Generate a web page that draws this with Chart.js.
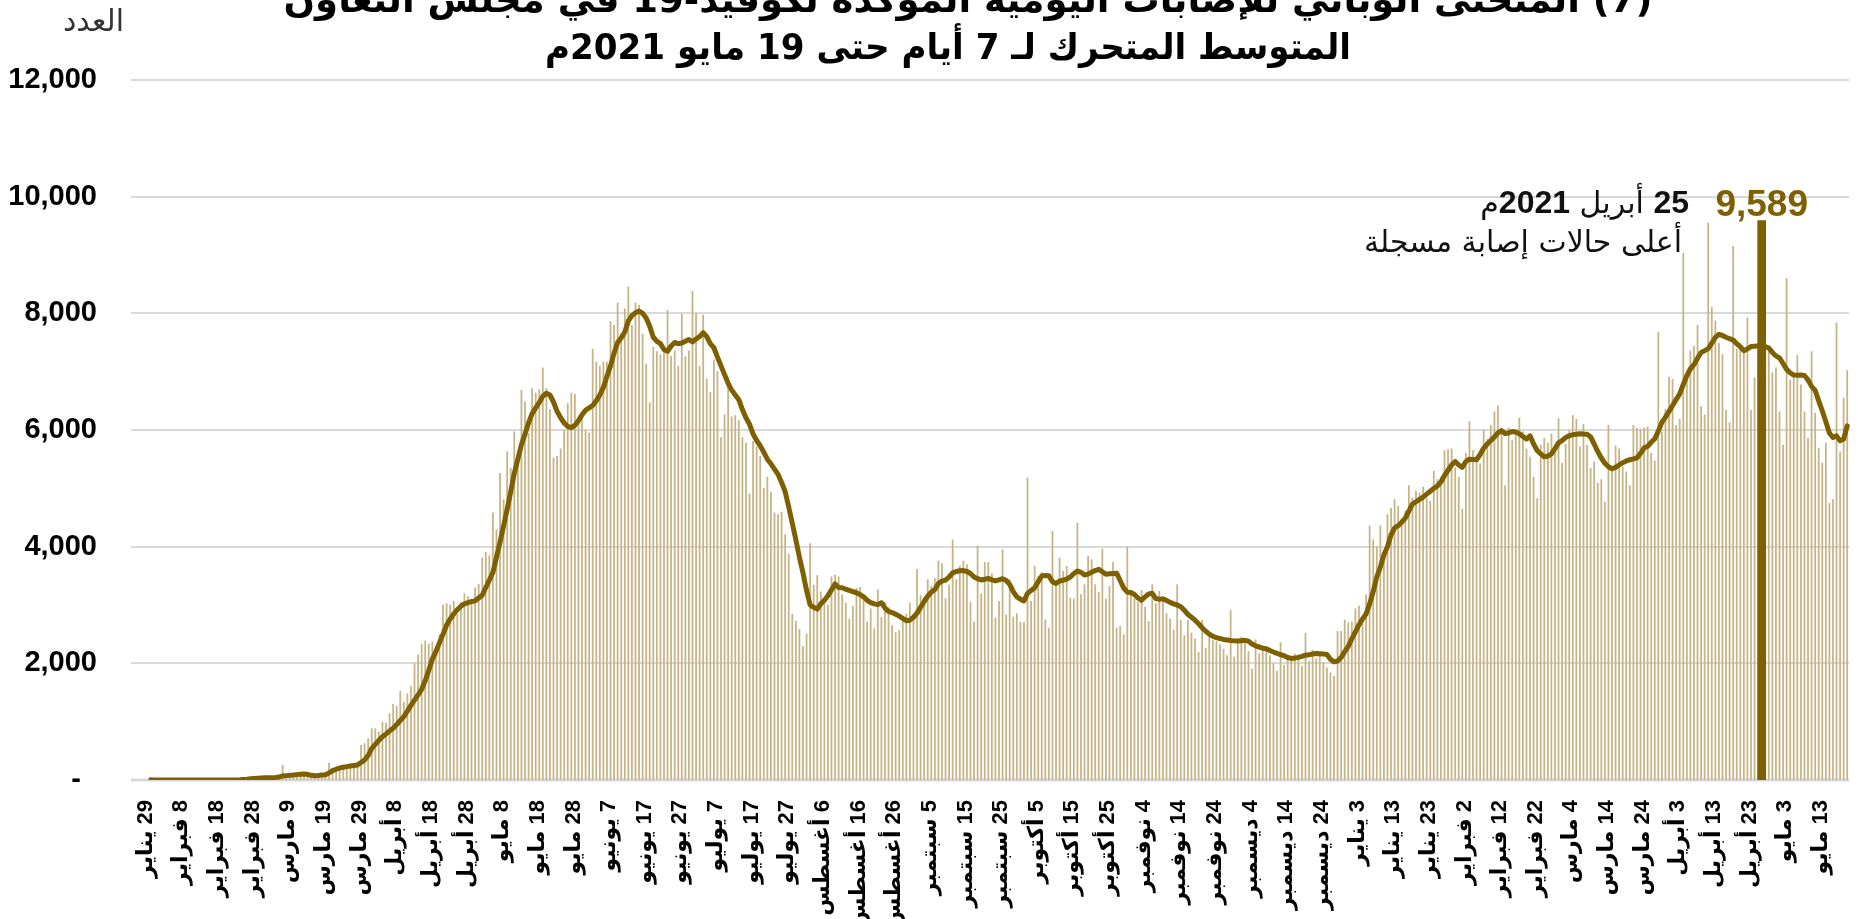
<!DOCTYPE html>
<html lang="ar">
<head>
<meta charset="utf-8">
<script src="https://cdn.jsdelivr.net/npm/chart.js@4.4.1/dist/chart.umd.min.js"></script>
<style>
html, body { margin: 0; padding: 0; background: #fff; }
canvas { display: block; direction: rtl; }
</style>
</head>
<body>
<canvas id="chart" width="1858" height="919"></canvas>
<script>
// daily confirmed cases in the GCC, 29 Jan 2020 .. 19 May 2021
const tickLabels = ['29 يناير','8 فبراير','18 فبراير','28 فبراير','9 مارس','19 مارس','29 مارس','8 أبريل','18 أبريل','28 أبريل',
  '8 مايو','18 مايو','28 مايو','7 يونيو','17 يونيو','27 يونيو','7 يوليو','17 يوليو','27 يوليو','6 أغسطس',
  '16 أغسطس','26 أغسطس','5 سبتمبر','15 سبتمبر','25 سبتمبر','5 أكتوبر','15 أكتوبر','25 أكتوبر','4 نوفمبر','14 نوفمبر',
  '24 نوفمبر','4 ديسمبر','14 ديسمبر','24 ديسمبر','3 يناير','13 يناير','23 يناير','2 فبراير','12 فبراير','22 فبراير',
  '4 مارس','14 مارس','24 مارس','3 أبريل','13 أبريل','23 أبريل','3 مايو','13 مايو'];

const dailyCases = [
  4,0,0,1,0,0,1,0,0,0,
  0,0,0,0,0,0,1,0,0,0,
  0,0,0,0,3,25,40,30,45,30,
  40,45,35,30,45,55,70,257,60,85,
  80,110,95,115,100,60,70,95,90,100,
  297,180,150,210,240,200,260,230,314,600,
  629,714,886,886,829,1000,983,1143,1303,1269,
  1531,1343,1486,1611,2000,2150,2330,2390,2340,2370,
  2300,2500,3006,3030,3006,3070,2850,3050,3200,3150,
  3050,3300,3360,3813,3910,3850,4587,4297,5265,4813,
  5632,5348,5974,5600,6684,6490,5950,6716,6639,6700,
  7071,6716,6361,5523,5555,5684,6006,6458,6639,6619,
  6135,6300,6000,5955,7394,7170,7100,7170,7170,7865,
  7800,8187,7650,8084,8458,7800,8187,8148,7652,7135,
  6471,7426,7350,7297,7400,8058,7264,7361,7100,7987,
  7264,7361,8381,8006,7103,7974,6877,6652,7200,7006,
  5877,6264,6910,6232,6252,6168,5877,5781,4910,5813,
  5716,5555,5006,5200,4942,4587,4555,4600,4213,3877,
  2845,2729,2587,2297,2510,4058,3348,3510,3232,3071,
  3006,3490,3523,3490,3181,3039,2768,2987,3297,3310,
  3168,2716,2942,2600,3265,2794,3052,2961,2652,2535,
  2568,2794,2850,3039,2781,3619,3168,3135,3439,3329,
  3458,3761,3716,3116,3348,4123,3439,3671,3761,3697,
  3052,2716,4019,3200,3735,3735,3542,2783,3069,3954,
  2840,3440,2800,2857,2709,2709,5183,3069,3669,3497,
  3566,2754,2611,4269,3354,3811,3583,3669,3126,3109,
  4411,3183,3354,3840,3783,3354,3223,3966,3109,3326,
  3737,2611,2640,2497,4000,3183,3109,3051,3257,2971,
  2726,3354,3029,3240,3126,2857,2766,2583,3354,2743,
  2480,2743,2526,2423,2194,2743,2269,2469,2400,2380,
  2326,2251,2137,2914,2114,2400,2457,2354,2211,1909,
  2411,2171,2229,2211,2137,2000,1869,2361,1974,2084,
  2084,2168,2148,1955,2523,2039,2232,2084,2148,2019,
  1929,1845,1781,2555,2555,2748,2703,2716,2942,2987,
  2768,3181,4361,4123,4006,4361,3813,4555,4665,4813,
  4700,4471,4619,5052,4845,4961,4923,5026,4832,4781,
  5297,5155,5200,5652,5671,5684,5361,5200,4652,5606,
  6148,5652,5490,5426,6006,5845,6084,6316,6426,5974,
  5052,6039,5826,6006,6213,5974,5684,5542,5200,4832,
  5748,5865,5781,5942,5748,6200,5439,5761,5994,6252,
  6187,5716,6103,5748,5348,5458,5090,5155,4768,6084,
  5361,5735,5684,5374,5284,5052,6084,6039,6019,6039,
  6058,5606,5477,7684,5974,6361,6910,6877,6084,6187,
  9039,6942,7361,7439,7800,6406,6264,9555,8103,7877,
  7490,7297,6342,6135,9155,7394,7490,7361,7929,6342,
  6900,7450,9589,7361,7394,6987,7071,6316,5748,8600,
  6858,6910,7284,6781,6316,5865,7348,6297,5697,5439,
  5781,4748,4813,7839,5632,6555,7026
];

// 7-day moving average
const movingAvg = [
  4,2,1,1,1,1,1,0,0,0,
  0,0,0,0,0,0,0,0,0,0,
  0,0,0,0,1,4,10,14,20,25,
  31,36,38,38,40,44,50,70,75,80,
  84,92,100,103,98,80,74,78,85,91,
  120,160,185,205,220,229,240,250,257,300,
  343,420,543,610,680,743,790,840,886,950,
  1020,1086,1180,1280,1371,1460,1555,1700,1880,2071,
  2200,2350,2500,2652,2760,2845,2920,2980,3020,3039,
  3060,3071,3120,3168,3300,3426,3560,3820,4080,4360,
  4640,4940,5260,5500,5748,5930,6120,6280,6380,6470,
  6580,6630,6600,6480,6320,6210,6120,6060,6040,6080,
  6160,6260,6340,6380,6420,6500,6600,6730,6920,7100,
  7320,7500,7580,7680,7870,7960,8010,8040,8000,7920,
  7780,7590,7520,7480,7380,7350,7440,7500,7480,7490,
  7520,7550,7510,7560,7600,7670,7600,7480,7410,7250,
  7100,6950,6800,6684,6600,6520,6350,6210,6100,5930,
  5820,5730,5620,5500,5420,5330,5240,5100,4942,4680,
  4400,4120,3820,3550,3250,3000,2960,2930,3020,3080,
  3160,3260,3361,3300,3295,3270,3250,3230,3210,3180,
  3140,3080,3040,3020,3006,3039,2950,2890,2870,2840,
  2810,2770,2730,2740,2790,2860,2960,3060,3150,3220,
  3265,3370,3410,3426,3480,3550,3575,3587,3590,3575,
  3540,3480,3450,3430,3440,3458,3430,3413,3430,3451,
  3420,3354,3230,3140,3100,3069,3200,3250,3297,3400,
  3497,3505,3500,3400,3370,3411,3425,3445,3480,3540,
  3583,3560,3515,3530,3560,3590,3611,3570,3526,3535,
  3540,3545,3420,3290,3220,3215,3180,3120,3080,3140,
  3190,3200,3110,3100,3105,3080,3045,3020,3000,2970,
  2910,2840,2790,2740,2680,2610,2550,2500,2465,2440,
  2425,2410,2400,2390,2385,2383,2388,2394,2380,2330,
  2300,2280,2260,2251,2220,2194,2170,2150,2130,2100,
  2084,2090,2103,2120,2140,2148,2160,2168,2165,2160,
  2150,2070,2025,2040,2100,2200,2290,2420,2540,2660,
  2760,2845,3020,3232,3480,3650,3860,4000,4200,4320,
  4360,4420,4490,4610,4729,4770,4810,4850,4900,4950,
  5000,5040,5110,5220,5310,5400,5458,5400,5361,5460,
  5500,5495,5490,5580,5690,5760,5820,5880,5950,5990,
  5940,5950,5974,5965,5935,5890,5845,5900,5760,5650,
  5590,5540,5550,5590,5680,5780,5820,5870,5900,5920,
  5929,5935,5930,5929,5880,5760,5630,5520,5430,5370,
  5335,5360,5400,5440,5470,5490,5505,5523,5600,5690,
  5720,5790,5850,5980,6130,6220,6320,6420,6520,6620,
  6780,6930,7050,7120,7230,7329,7360,7394,7490,7587,
  7640,7620,7590,7565,7542,7480,7426,7360,7390,7430,
  7435,7440,7439,7430,7406,7330,7270,7235,7140,7039,
  6980,6942,6940,6942,6935,6860,6748,6680,6500,6329,
  6140,5950,5870,5900,5813,5845,6071
];

const yTicks = [0, 2000, 4000, 6000, 8000, 10000, 12000];
const peakIndex = 452; // 25 April 2021

const days = dailyCases.map((_, i) => new Date(Date.UTC(2020, 0, 29 + i)).toISOString().slice(0, 10));
const peakBar = dailyCases.map((v, i) => i === peakIndex ? v : null);

const GOLD = '#7f6000';
const TAN = 'rgb(197,180,134)';
const GRID = '#d9d9d9';

const gridPlugin = {
  id: 'gridFromLeft',
  beforeDatasetsDraw(chart) {
    const { ctx, scales: { y } } = chart;
    ctx.save();
    ctx.strokeStyle = GRID;
    yTicks.forEach(v => {
      const py = Math.round(y.getPixelForValue(v));
      ctx.lineWidth = v === 0 ? 3 : 2;
      ctx.beginPath();
      ctx.moveTo(131, py);
      ctx.lineTo(1849, py);
      ctx.stroke();
    });
    ctx.restore();
  }
};

const fitText = (ctx, text, x, y, width) => {
  const w = ctx.measureText(text).width;
  ctx.save();
  ctx.translate(x, y);
  ctx.scale(width / w, 1);
  ctx.fillText(text, 0, 0);
  ctx.restore();
};

const textPlugin = {
  id: 'texts',
  afterDraw(chart) {
    const { ctx, scales: { x } } = chart;
    ctx.save();
    ctx.direction = 'rtl';
    ctx.fillStyle = '#000';
    ctx.textBaseline = 'alphabetic';

    // title
    ctx.textAlign = 'center';
    ctx.font = 'bold 36px "DejaVu Sans", sans-serif';
    fitText(ctx, '(7) المنحنى الوبائي للإصابات اليومية المؤكدة لكوفيد-19 في مجلس التعاون', 968, 12, 1369);
    fitText(ctx, 'المتوسط المتحرك لـ 7 أيام حتى 19 مايو 2021م', 948, 59, 806);

    // axis unit
    ctx.textAlign = 'right';
    ctx.font = '30px "DejaVu Sans", sans-serif';
    ctx.fillStyle = '#333';
    ctx.fillText('العدد', 124, 31);

    // peak annotation
    const px = x.getPixelForValue(peakIndex);
    ctx.textAlign = 'center';
    ctx.direction = 'ltr';
    ctx.fillStyle = GOLD;
    ctx.font = 'bold 37px "Liberation Sans", Arial, sans-serif';
    ctx.fillText('9,589', px, 216);

    ctx.direction = 'rtl';
    ctx.textAlign = 'right';
    ctx.fillStyle = '#111';
    let cx = 1689;
    const parts = [
      ['25', 'bold 32px "Liberation Sans", Arial, sans-serif'],
      [' أبريل ', '30px "DejaVu Sans", sans-serif'],
      ['2021', 'bold 32px "Liberation Sans", Arial, sans-serif'],
      ['م', '30px "DejaVu Sans", sans-serif']
    ];
    parts.forEach(([t, f]) => {
      ctx.font = f;
      ctx.fillText(t, cx, 213);
      cx -= ctx.measureText(t).width;
    });
    ctx.font = '30px "DejaVu Sans", sans-serif';
    fitText(ctx, 'أعلى حالات إصابة مسجلة', 1682, 252, 318);

    ctx.restore();
  }
};

new Chart(document.getElementById('chart'), {
  type: 'bar',
  data: {
    labels: days,
    datasets: [
      {
        type: 'line',
        data: movingAvg,
        borderColor: GOLD,
        borderWidth: 5,
        borderJoinStyle: 'round',
        borderCapStyle: 'round',
        pointRadius: 0,
        tension: 0,
        order: 1
      },
      {
        data: peakBar,
        backgroundColor: GOLD,
        barThickness: 8,
        grouped: false,
        order: 0
      },
      {
        data: dailyCases,
        backgroundColor: TAN,
        barPercentage: 0.5,
        categoryPercentage: 1,
        grouped: false,
        order: 2
      }
    ]
  },
  options: {
    responsive: false,
    devicePixelRatio: 1,
    animation: false,
    events: [],
    layout: { padding: { top: 80, right: 9, left: 0, bottom: 0 } },
    plugins: { legend: { display: false }, tooltip: { enabled: false } },
    scales: {
      x: {
        offset: true,
        grid: { display: false, drawTicks: false },
        border: { display: false },
        afterFit: s => { s.height = 139; s.paddingLeft = 0; s.paddingRight = 0; },
        ticks: {
          autoSkip: false,
          minRotation: 90,
          maxRotation: 90,
          padding: 20,
          labelOffset: -5,
          color: '#000',
          font: { family: '"Liberation Sans", "DejaVu Sans", sans-serif', size: 22, weight: 'bold' },
          callback: (v, i) => i % 10 === 0 ? tickLabels[i / 10] : null
        }
      },
      y: {
        min: 0,
        max: 12000,
        afterFit: s => { s.width = 149; },
        afterBuildTicks: s => { s.ticks = yTicks.map(v => ({ value: v })); },
        grid: { display: false, drawTicks: false },
        border: { display: false },
        ticks: {
          padding: 52,
          color: '#000',
          font: { family: '"Liberation Sans", Arial, sans-serif', size: 29, weight: 'bold' },
          callback: v => v === 0 ? '\u200E-\u00A0\u00A0\u200E' : v.toLocaleString('en-US')
        }
      }
    }
  },
  plugins: [gridPlugin, textPlugin]
});
</script>
</body>
</html>
